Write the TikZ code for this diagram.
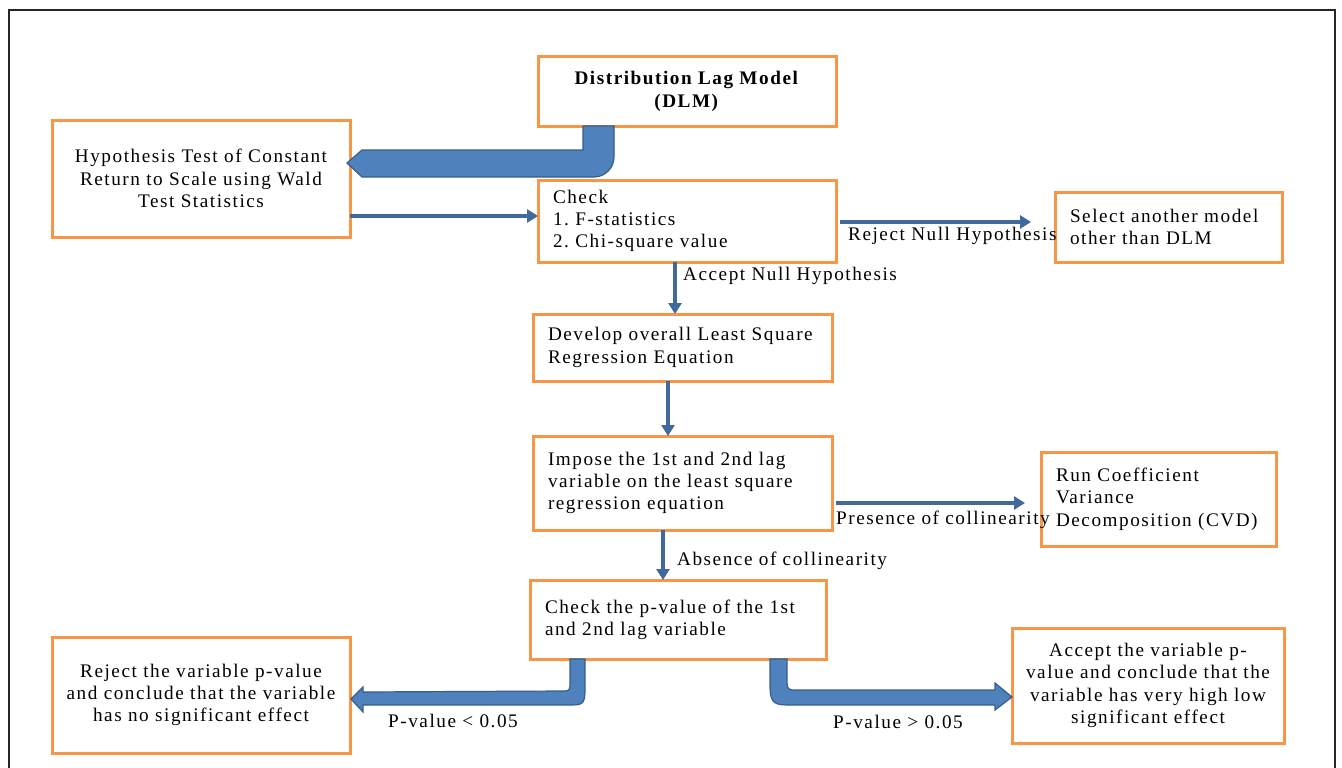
\documentclass[tikz,border=0pt]{standalone}
\usepackage{fontspec}
\setmainfont{Liberation Serif}[LetterSpace=8]
\frenchspacing
\usetikzlibrary{arrows.meta,calc}
\definecolor{boxorange}{RGB}{247,150,70}
\definecolor{thickfill}{RGB}{79,129,189}
\definecolor{thickline}{RGB}{56,93,138}
\definecolor{thinblue}{RGB}{65,105,155}
\tikzset{
  box/.style={draw=boxorange, line width=3pt, fill=white, inner sep=0pt, outer sep=0pt,
    font=\fontsize{19.2}{22.3}\selectfont},
  lbox/.style={box, align=left, inner xsep=15pt},
  cbox/.style={box, align=center},
  thinarrow/.style={draw=thinblue, line width=4.5pt, -{Triangle[length=11pt,width=13pt]}},
  thickarrow/.style={fill=thickfill, draw=thickline, line width=1.2pt},
  lbl/.style={anchor=west, inner sep=0pt, font=\fontsize{19.2}{22.3}\selectfont}
}
\begin{document}
\begin{tikzpicture}[x=1pt,y=-1pt]
\useasboundingbox (0,0) rectangle (1342,768);
\draw[line width=1.5pt, black!85] (9,768) -- (9,10) -- (1335,10) -- (1335,768);

\node[cbox, minimum width=298pt, minimum height=69pt] (dlm) at (687,91.5)
  {\textbf{Distribution Lag Model}\\\textbf{(DLM)}};
\node[cbox, minimum width=298pt, minimum height=117pt] (hyp) at (201,178.5)
  {Hypothesis Test of Constant\\Return to Scale using Wald\\Test Statistics};
\node[lbox, minimum width=298pt, minimum height=82pt, text width=268pt] (check) at (687,221)
  {Check\\1. F-statistics\\2. Chi-square value};
\node[lbox, minimum width=227pt, minimum height=70pt, text width=197pt] (sel) at (1168.5,227)
  {Select another model\\other than DLM};
\node[lbox, minimum width=299pt, minimum height=67pt, text width=269pt] (dev) at (682.5,347.5)
  {Develop overall Least Square\\Regression Equation};
\node[lbox, minimum width=299pt, minimum height=94pt, text width=269pt] (imp) at (682.5,483)
  {Impose the 1st and 2nd lag\\variable on the least square\\regression equation};
\node[lbox, minimum width=235pt, minimum height=94pt, text width=205pt] (run) at (1158.5,499)
  {Run Coefficient\\Variance\\Decomposition (CVD)};
\node[lbox, minimum width=296pt, minimum height=79pt, text width=266pt] (chkp) at (678,619.5)
  {Check the p-value of the 1st\\and 2nd lag variable};
\node[cbox, minimum width=298pt, minimum height=116pt] (rej) at (201,695)
  {Reject the variable p-value\\and conclude that the variable\\has no significant effect};
\node[cbox, minimum width=272pt, minimum height=115pt] (acc) at (1148,685.5)
  {Accept the variable p-\\value and conclude that the\\variable has very high low\\significant effect};

% thick bent arrow DLM -> hypothesis
\path[thickarrow]
  ($(dlm.south west)+(45,0)$) -- ($(dlm.south west)+(76,0)$)
  -- ($(dlm.south west)+(76,31)$) .. controls ($(dlm.south west)+(76,42)$) and ($(dlm.south west)+(67,51)$) .. ($(dlm.south west)+(56,51)$)
  -- ($(hyp.east)+(12,-1.5)$) -- ($(hyp.east)+(-3,-15.5)$) -- ($(hyp.east)+(12,-28.5)$)
  -- ($(dlm.south west)+(45,24)$) -- cycle;

% thick bent arrow check p -> reject
\path[thickarrow]
  ($(chkp.south west)+(40,0)$) -- ($(chkp.south west)+(55,0)$)
  -- ($(chkp.south west)+(55,31)$) .. controls ($(chkp.south west)+(55,46)$) and ($(chkp.south west)+(52,46)$) .. ($(chkp.south west)+(38,46)$)
  -- ($(rej.east)+(13,10)$) -- ($(rej.east)+(13,17)$) -- ($(rej.east)+(1,4)$)
  -- ($(rej.east)+(13,-8)$) -- ($(rej.east)+(13,-3)$)
  -- ($(chkp.south west)+(35,32)$) .. controls ($(chkp.south west)+(39,32)$) and ($(chkp.south west)+(40,30)$) .. ($(chkp.south west)+(40,26)$)
  -- cycle;

% thick bent arrow check p -> accept
\path[thickarrow]
  ($(chkp.south west)+(257,0)$) -- ($(chkp.south west)+(240,0)$)
  -- ($(chkp.south west)+(240,26)$) .. controls ($(chkp.south west)+(240,46)$) and ($(chkp.south west)+(245,46)$) .. ($(chkp.south west)+(262,46)$)
  -- ($(acc.west)+(-17,19.5)$) -- ($(acc.west)+(-17,24.5)$) -- ($(acc.west)+(0,11.5)$)
  -- ($(acc.west)+(-17,-2.5)$) -- ($(acc.west)+(-17,4.5)$)
  -- ($(chkp.south west)+(263,31)$) .. controls ($(chkp.south west)+(259,31)$) and ($(chkp.south west)+(257,29)$) .. ($(chkp.south west)+(257,24)$)
  -- cycle;

% thin arrows
\draw[thinarrow] ($(hyp.south east)+(0,-21)$) coordinate (a1) -- (a1 -| check.west);
\draw[thinarrow] ($(check.east)+(4,1)$) -- ($(sel.west)+(-24,-5)$);
\draw[thinarrow] ($(check.south)+(-12,0)$) coordinate (a3) -- (a3 |- dev.north);
\draw[thinarrow] ($(dev.south)+(-14.5,0)$) coordinate (a4) -- (a4 |- imp.north);
\draw[thinarrow] ($(imp.east)+(4,20)$) -- ($(run.west)+(-16,4)$);
\draw[thinarrow] ($(imp.south)+(-19.5,0)$) coordinate (a6) -- (a6 |- chkp.north);

% labels
\node[lbl] (l1) at (848,236) {Reject Null Hypothesis};
\node[lbl] (l2) at (683,276) {Accept Null Hypothesis};
\node[lbl] (l3) at (836,520) {Presence of collinearity};
\node[lbl] (l4) at (677,561) {Absence of collinearity};
\node[lbl] (l5) at (388,721) {P-value < 0.05};
\node[lbl] (l6) at (833,722) {P-value > 0.05};
\end{tikzpicture}
\end{document}
